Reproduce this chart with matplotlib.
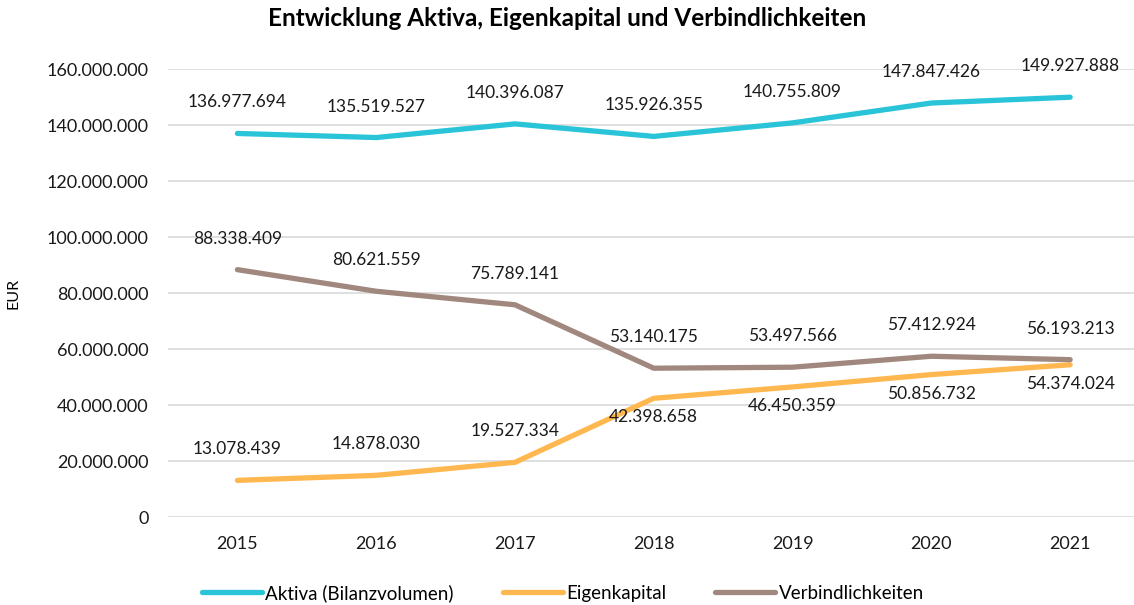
import matplotlib

matplotlib.use("Agg")
import matplotlib.pyplot as plt
from matplotlib.ticker import FuncFormatter

plt.rcParams["font.family"] = ["Lato", "DejaVu Sans"]

years = ["2015", "2016", "2017", "2018", "2019", "2020", "2021"]
aktiva = [136977694, 135519527, 140396087, 135926355, 140755809, 147847426, 149927888]
eigenkapital = [13078439, 14878030, 19527334, 42398658, 46450359, 50856732, 54374024]
verbindlichkeiten = [88338409, 80621559, 75789141, 53140175, 53497566, 57412924, 56193213]

# label above (+) or below (-) the point, in pixels
ek_offsets = [31, 31, 31, -19, -19, -19, -19]


def de(v):
    return f"{v:,.0f}".replace(",", ".")


fig = plt.figure(figsize=(11.34, 6.05), dpi=100)
# plot area runs to the right edge of the image (cut off like the original)
ax = fig.add_axes([168 / 1134, 1 - 517 / 605, (1134 - 168) / 1134, (517 - 69) / 605])

x = list(range(len(years)))
series = [
    ("Aktiva (Bilanzvolumen)", aktiva, "#29C4D7", [31] * 7),
    ("Eigenkapital", eigenkapital, "#FFB74F", ek_offsets),
    ("Verbindlichkeiten", verbindlichkeiten, "#A1887F", [31] * 7),
]
for name, vals, col, offs in series:
    ax.plot(x, vals, color=col, lw=3.8, solid_capstyle="round", solid_joinstyle="round", label=name)
    for xi, v, o in zip(x, vals, offs):
        ax.annotate(de(v), (xi, v), xytext=(0, o), textcoords="offset pixels",
                    ha="center", va="center", fontsize=12.5, color="#1a1a1a")

ax.set_xlim(-0.5, 6.46)
ax.set_ylim(0, 160000000)
ax.set_yticks(range(0, 160000001, 20000000))
ax.yaxis.set_major_formatter(FuncFormatter(lambda v, p: de(v)))
ax.set_xticks(x)
ax.set_xticklabels(years)
ax.grid(True, axis="y", color="#D9D9D9", lw=1.2)
ax.set_axisbelow(True)
for s in ax.spines.values():
    s.set_visible(False)
ax.tick_params(axis="both", length=0, labelsize=13, colors="#1a1a1a")
ax.tick_params(axis="y", pad=14)
ax.tick_params(axis="x", pad=14)
ax.set_ylabel("EUR", fontsize=11.5)
ax.yaxis.set_label_coords(-0.153, 0.5)

fig.text(0.5, 1 - 19 / 605, "Entwicklung Aktiva, Eigenkapital und Verbindlichkeiten",
         ha="center", va="center", fontsize=17.5, fontweight="bold")

fig.legend(loc="center", bbox_to_anchor=(0.4965, 1 - 593 / 605), ncol=3, frameon=False,
           fontsize=13.5, handlelength=3.2, handletextpad=0.2, columnspacing=2.6)

fig.savefig("out.png", dpi=100)
